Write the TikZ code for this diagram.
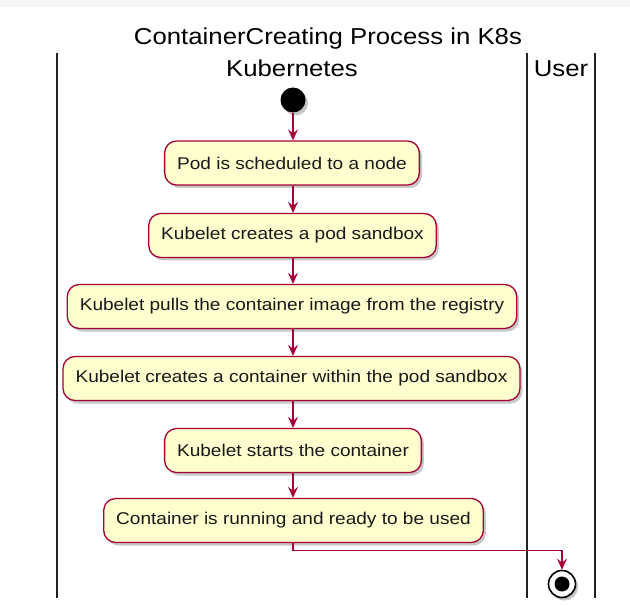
\documentclass[tikz,border=0pt]{standalone}
\usepackage{fontspec}
\setmainfont{Liberation Sans}[FakeStretch=1.12]
\usetikzlibrary{arrows.meta,shadows,positioning}
\definecolor{umlred}{HTML}{A80036}
\definecolor{umlfill}{HTML}{FEFECE}
\definecolor{lanegray}{HTML}{222222}
\begin{document}
\begin{tikzpicture}[x=1pt,y=-1pt,
  actbox/.style={draw=umlred, fill=umlfill, line width=1.3pt, rounded corners=12pt,
    minimum height=44pt, inner xsep=12.5pt, inner ysep=0pt, text=black!90,
    font=\fontsize{17}{20}\selectfont,
    drop shadow={shadow xshift=2.5pt, shadow yshift=-3pt, opacity=0.22, fill=black}},
  flow/.style={draw=umlred, line width=1.3pt, -{Stealth[length=11pt,width=10pt,inset=4pt]}},
  lane/.style={draw=lanegray, line width=2pt},
  lanetitle/.style={font=\fontsize{23}{26}\selectfont, text=black, inner sep=0pt, anchor=base}
]
\useasboundingbox (0,0) rectangle (630,607);
\fill[white] (0,0) rectangle (630,607);
\fill[black!4] (0,0) rectangle (630,7);

% title and lanes
\node[lanetitle] (title) at (328,45) {ContainerCreating Process in K8s};
\node[lanetitle] (kube) at (292,77) {Kubernetes};
\node[lanetitle] (user) at (561,77) {User};
\coordinate (l1t) at (57,53);  \coordinate (l1b) at (57,598);
\coordinate (l2t) at (527,53); \coordinate (l2b) at (527,598);
\coordinate (l3t) at (595,53); \coordinate (l3b) at (595,598);
\draw[lane] (l1t) -- (l1b);
\draw[lane] (l2t) -- (l2b);
\draw[lane] (l3t) -- (l3b);

% start
\node[circle, fill=black, minimum size=25pt, inner sep=0pt,
  drop shadow={shadow xshift=2.5pt, shadow yshift=-3pt, opacity=0.22, fill=black}] (start) at (293,100) {};

% activities
\node[actbox] (b1) at (292,163) {Pod is scheduled to a node};
\node[actbox] (b2) at (292.5,235.5) {Kubelet creates a pod sandbox};
\node[actbox] (b3) at (292,306.5) {Kubelet pulls the container image from the registry};
\node[actbox] (b4) at (291.5,378.5) {Kubelet creates a container within the pod sandbox};
\node[actbox] (b5) at (293,450.5) {Kubelet starts the container};
\node[actbox] (b6) at (293.5,520.5) {Container is running and ready to be used};

% end
\node[circle, draw=black, line width=1.6pt, fill=white, minimum size=27pt, inner sep=0pt,
  drop shadow={shadow xshift=2.5pt, shadow yshift=-3pt, opacity=0.22, fill=black}] (end) at (562,584) {};
\fill[black] (end.center) circle (7.5pt);

% flows
\draw[flow] (start.south) -- (start.south |- b1.north);
\draw[flow] (b1.south -| start) -- (b2.north -| start);
\draw[flow] (b2.south -| start) -- (b3.north -| start);
\draw[flow] (b3.south -| start) -- (b4.north -| start);
\draw[flow] (b4.south -| start) -- (b5.north -| start);
\draw[flow] (b5.south -| start) -- (b6.north -| start);
\draw[flow] (b6.south -| start) -- ++(0,7) -| (end.north);
\end{tikzpicture}
\end{document}
